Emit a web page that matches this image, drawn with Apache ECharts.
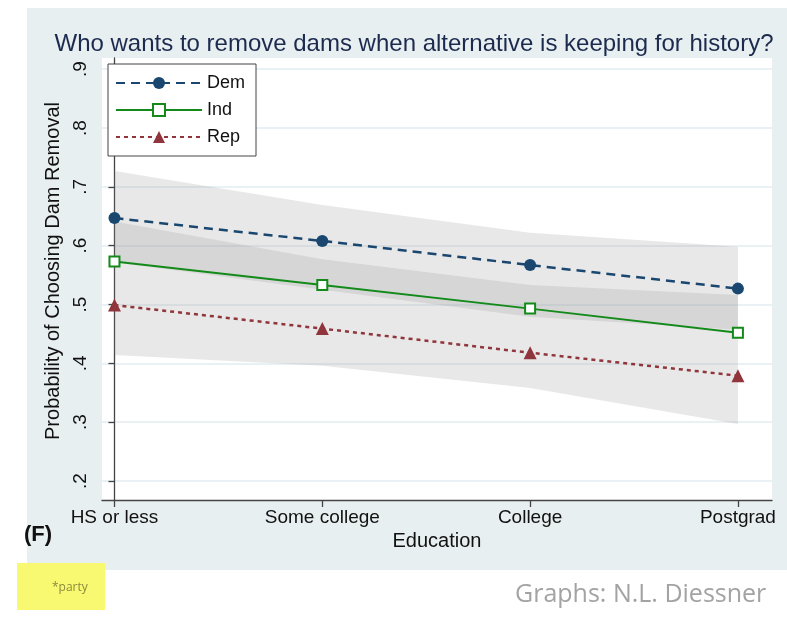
<!DOCTYPE html>
<html>
<head>
<meta charset="utf-8">
<script src="https://cdn.jsdelivr.net/npm/echarts@6/dist/echarts.min.js"></script>
<style>
html,body{margin:0;padding:0;background:#fff;}
#chart{width:787px;height:633px;}
</style>
</head>
<body>
<div id="chart"></div>
<script>
// ---- data ----
const categories = ['HS or less', 'Some college', 'College', 'Postgrad'];
const yTicks = [0.2, 0.3, 0.4, 0.5, 0.6, 0.7, 0.8, 0.9];
const dem = [0.647, 0.608, 0.567, 0.527];
const ind = [0.573, 0.533, 0.493, 0.452];
const rep = [0.499, 0.459, 0.418, 0.379];
// confidence bands (two overlapping shaded regions)
const bandUpperHi = [0.727, 0.669, 0.622, 0.598];
const bandUpperLo = [0.572, 0.525, 0.479, 0.457];
const bandLowerHi = [0.641, 0.577, 0.533, 0.516];
const bandLowerLo = [0.414, 0.396, 0.358, 0.297];

const toPairs = arr => arr.map((v, i) => [i, v]);

function bandSeries(hi, lo) {
  return {
    type: 'custom',
    silent: true,
    z: 1,
    data: [0],
    clip: true,
    renderItem: function (params, api) {
      const pts = [];
      for (let i = 0; i < hi.length; i++) pts.push(api.coord([i, hi[i]]));
      for (let i = lo.length - 1; i >= 0; i--) pts.push(api.coord([i, lo[i]]));
      return {
        type: 'polygon',
        shape: { points: pts },
        style: { fill: 'rgba(150,150,150,0.22)', stroke: null }
      };
    }
  };
}

const chart = echarts.init(document.getElementById('chart'), null, { renderer: 'canvas' });
const FONT = '"Liberation Sans", Arial, sans-serif';

chart.setOption({
  animation: false,
  backgroundColor: '#ffffff',
  title: {
    text: 'Who wants to remove dams when alternative is keeping for history?',
    left: 409, top: 27, textAlign: 'center',
    textStyle: { fontFamily: FONT, fontSize: 24, fontWeight: 'normal', color: '#1c2a4e' }
  },
  graphic: [
    { type: 'rect', z: -10, silent: true, shape: { x: 27, y: 8, width: 760, height: 562 }, style: { fill: '#e8eff1' } },
    { type: 'rect', z: -10, silent: true, shape: { x: 17, y: 563, width: 88, height: 47 }, style: { fill: '#f8f871' } },
    { type: 'text', z: 10, left: 24, top: 524, style: { text: '(F)', fontFamily: FONT, fontSize: 22, fontWeight: 'bold', fill: '#111' } },
    { type: 'text', z: 10, left: 52, top: 582, style: { text: '*party', fontFamily: '"Open Sans", sans-serif', fontSize: 12, fill: '#8a8a40' } },
    { type: 'text', z: 10, left: 515, top: 582, style: { text: 'Graphs: N.L. Diessner', fontFamily: '"Open Sans", sans-serif', fontSize: 25, fill: '#a3a3a3' } }
  ],
  legend: {
    left: 108, top: 64,
    orient: 'vertical',
    backgroundColor: '#ffffff',
    borderColor: '#444',
    borderWidth: 1,
    borderRadius: 0,
    padding: [10, 11, 10, 7],
    itemWidth: 86, itemHeight: 15, itemGap: 9,
    textStyle: { fontFamily: FONT, fontSize: 18, color: '#111', lineHeight: 18 },
    data: ['Dem', 'Ind', 'Rep']
  },
  grid: {
    left: 102, right: 15, top: 58, bottom: 133,
    show: true, backgroundColor: '#ffffff', borderWidth: 0
  },
  xAxis: {
    type: 'value',
    min: -0.06, max: 3.164,
    name: 'Education', nameLocation: 'middle', nameGap: 23,
    nameTextStyle: { fontFamily: FONT, fontSize: 20, color: '#111' },
    axisLine: { show: true, lineStyle: { color: '#444', width: 1.3 } },
    axisTick: { show: true, length: 7, lineStyle: { color: '#444', width: 1.3 }, customValues: [0, 1, 2, 3] },
    axisLabel: {
      fontFamily: FONT, fontSize: 19, color: '#111', margin: 8,
      customValues: [0, 1, 2, 3],
      formatter: v => categories[Math.round(v)]
    },
    splitLine: { show: false }
  },
  yAxis: {
    type: 'value',
    min: 0.1677, max: 0.919,
    name: 'Probability of Choosing Dam Removal', nameLocation: 'middle', nameGap: 31, nameRotate: 90,
    nameTextStyle: { fontFamily: FONT, fontSize: 20, color: '#111', padding: [0, 0, 0, 16] },
    axisLine: { show: true, lineStyle: { color: '#444', width: 1.3 } },
    axisTick: { show: true, length: 6, lineStyle: { color: '#444', width: 1.3 }, customValues: yTicks },
    axisLabel: {
      fontFamily: FONT, fontSize: 19, color: '#111', rotate: 90, margin: 12,
      customValues: yTicks,
      formatter: v => String(Math.round(v * 10) / 10).replace(/^0/, '')
    },
    splitLine: { show: true, lineStyle: { color: '#e2edf0', width: 1.5 }, customValues: yTicks }
  },
  series: [
    bandSeries(bandUpperHi, bandUpperLo),
    bandSeries(bandLowerHi, bandLowerLo),
    {
      name: 'Dem', type: 'line', z: 5, data: toPairs(dem),
      symbol: 'circle', symbolSize: 12,
      lineStyle: { color: '#1a476f', width: 2.5, type: [9, 6] },
      itemStyle: { color: '#1a476f' }
    },
    {
      name: 'Ind', type: 'line', z: 5, data: toPairs(ind),
      symbol: 'emptyRect', symbolSize: 10,
      lineStyle: { color: '#138a1a', width: 2 },
      itemStyle: { color: '#138a1a', borderWidth: 1.8 }
    },
    {
      name: 'Rep', type: 'line', z: 5, data: toPairs(rep),
      symbol: 'triangle', symbolSize: 13,
      lineStyle: { color: '#90353b', width: 2.5, type: [4, 4] },
      itemStyle: { color: '#90353b' }
    }
  ]
});
</script>
</body>
</html>
